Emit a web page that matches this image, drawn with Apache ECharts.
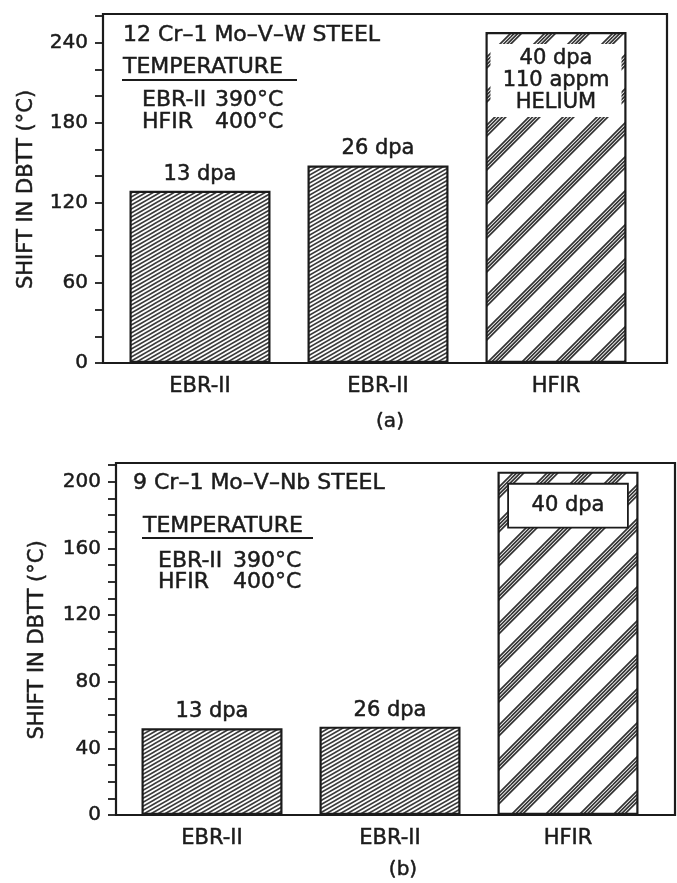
<!DOCTYPE html>
<html>
<head>
<meta charset="utf-8">
<script src="https://cdn.jsdelivr.net/npm/echarts@6/dist/echarts.min.js"></script>
<style>
  html, body { margin: 0; padding: 0; background: #fff; }
  #chart { width: 677px; height: 883px; }
</style>
</head>
<body>
<div id="chart"></div>
<script>
// reactor / dose categories (same for both panels)
const categories = ['EBR-II', 'EBR-II', 'HFIR'];

// (a) 12Cr-1Mo-V-W steel, shift in DBTT (°C)
const shiftA = [129, 148, 248];
const barLabelsA = ['13 dpa', '26 dpa', '40 dpa\n110 appm\nHELIUM'];
const tickLabelsA = [0, 60, 120, 180, 240];

// (b) 9Cr-1Mo-V-Nb steel
const shiftB = [52, 53, 206];
const barLabelsB = ['13 dpa', '26 dpa', '40 dpa'];
const tickLabelsB = [0, 40, 80, 120, 160, 200];

const FONT = '"DejaVu Sans", sans-serif';
const INK = '#1b1b1b';
const BOLDEN = 0.5; // scanned print looks a bit heavier than plain DejaVu

// fine diagonal hatch used for the EBR-II bars
function fineHatch() {
  const w = 14, h = 8, n = 2;
  const c = document.createElement('canvas');
  c.width = w; c.height = h;
  const ctx = c.getContext('2d');
  ctx.fillStyle = '#fff';
  ctx.fillRect(0, 0, w, h);
  ctx.strokeStyle = '#3a3a3a';
  ctx.lineWidth = 1.6;
  for (let k = -n; k <= 2 * n; k++) {
    const off = k * h / n;
    ctx.beginPath();
    ctx.moveTo(-1, h + off + h / w);
    ctx.lineTo(w + 1, off - h / w);
    ctx.stroke();
  }
  return c;
}

// wide 45° bands of thin lines used for the HFIR bars
function bandHatch() {
  const s = 34;
  const c = document.createElement('canvas');
  c.width = s; c.height = s;
  const ctx = c.getContext('2d');
  ctx.fillStyle = '#fff';
  ctx.fillRect(0, 0, s, s);
  ctx.strokeStyle = '#333';
  ctx.lineWidth = 1.7;
  const offs = [0, 3.6, 7.2, 10.8];
  for (let k = -1; k <= 2; k++) {
    offs.forEach(o => {
      const b = o + k * s;
      ctx.beginPath();
      ctx.moveTo(-2, b + 2);
      ctx.lineTo(s + 2, b - s - 2);
      ctx.stroke();
    });
  }
  return c;
}

const ebrFill = { image: fineHatch(), repeat: 'repeat' };
const hfirFill = { image: bandHatch(), repeat: 'repeat' };

function txt(x, y, text, size, align) {
  return {
    type: 'text', x: x, y: y,
    style: {
      text: text, font: size + 'px ' + FONT, fill: INK,
      stroke: INK, lineWidth: BOLDEN,
      align: align || 'left', verticalAlign: 'middle'
    }
  };
}
function rule(x1, x2, y) {
  return { type: 'line', shape: { x1: x1, y1: y, x2: x2, y2: y }, style: { stroke: INK, lineWidth: 2 } };
}

const heavy = { textBorderColor: INK, textBorderWidth: BOLDEN };

function valueAxis(grid, max, interval, offset, labels, nameGap) {
  return {
    gridIndex: grid, type: 'value', min: 0, max: max, interval: interval, offset: offset,
    axisLine: { show: false },
    splitLine: { show: false },
    axisTick: { show: true, length: 8, lineStyle: { color: INK, width: 1.8 } },
    axisLabel: Object.assign({
      margin: 15, fontSize: 20, fontFamily: FONT, color: INK,
      formatter: v => (labels.indexOf(v) >= 0 ? String(v) : '')
    }, heavy),
    name: 'SHIFT IN DBTT (°C)', nameLocation: 'middle', nameRotate: 90, nameGap: nameGap,
    nameTextStyle: Object.assign({ fontSize: 21, fontFamily: FONT, color: INK }, heavy)
  };
}

function catAxis(grid) {
  return {
    gridIndex: grid, type: 'category', data: categories,
    axisLine: { show: false }, axisTick: { show: false },
    axisLabel: Object.assign({ margin: 13, fontSize: 21, fontFamily: FONT, color: INK }, heavy)
  };
}

function barData(values, boxLabel) {
  return values.map((v, i) => {
    const item = { value: v, itemStyle: { color: categories[i] === 'HFIR' ? hfirFill : ebrFill } };
    if (categories[i] === 'HFIR') item.label = boxLabel;
    return item;
  });
}

function barSeries(axisIndex, values, labels, boxLabel) {
  return {
    type: 'bar', xAxisIndex: axisIndex, yAxisIndex: axisIndex, barWidth: 141,
    itemStyle: { borderColor: INK, borderWidth: 2.2 },
    emphasis: { disabled: true },
    label: Object.assign({
      show: true, position: 'top', distance: 6, fontSize: 21, fontFamily: FONT, color: INK,
      formatter: p => labels[p.dataIndex]
    }, heavy),
    data: barData(values, boxLabel)
  };
}

const chart = echarts.init(document.getElementById('chart'));

const option = {
  animation: false,
  backgroundColor: '#fff',
  grid: [
    { left: 103, top: 14, width: 564, height: 349, show: true, borderColor: INK, borderWidth: 2.2, backgroundColor: 'transparent' },
    { left: 111, top: 16, width: 534, height: 347 },
    { left: 116, top: 463, width: 559, height: 352, show: true, borderColor: INK, borderWidth: 2.2, backgroundColor: 'transparent' },
    { left: 123, top: 465, width: 534, height: 350 }
  ],
  xAxis: [
    { gridIndex: 0, type: 'value', show: false },
    catAxis(1),
    { gridIndex: 2, type: 'value', show: false },
    catAxis(3)
  ],
  yAxis: [
    { gridIndex: 0, type: 'value', show: false },
    valueAxis(1, 260, 20, 8, tickLabelsA, 66),
    { gridIndex: 2, type: 'value', show: false },
    valueAxis(3, 210, 10, 7, tickLabelsB, 68)
  ],
  series: [
    barSeries(1, shiftA, barLabelsA, {
      position: 'insideTop', distance: 12, backgroundColor: '#fff',
      width: 131, lineHeight: 22, padding: [4, 0, 3, 0], align: 'center'
    }),
    barSeries(3, shiftB, barLabelsB, {
      position: 'insideTop', distance: 13, backgroundColor: '#fff',
      borderColor: INK, borderWidth: 1.8,
      width: 118, lineHeight: 22, padding: [10, 0, 10, 0], align: 'center'
    })
  ],
  graphic: [
    txt(123, 35, '12 Cr–1 Mo–V–W STEEL', 22),
    txt(123, 67, 'TEMPERATURE', 22),
    rule(122, 297, 80),
    txt(142, 100, 'EBR-II', 22), txt(215, 100, '390°C', 22),
    txt(142, 122, 'HFIR', 22), txt(215, 122, '400°C', 22),
    txt(390, 422, '(a)', 20, 'center'),

    txt(133, 483, '9 Cr–1 Mo–V–Nb STEEL', 22),
    txt(143, 526, 'TEMPERATURE', 22),
    rule(142, 313, 538),
    txt(158, 561, 'EBR-II', 22), txt(233, 561, '390°C', 22),
    txt(158, 582, 'HFIR', 22), txt(233, 582, '400°C', 22),
    txt(403, 870, '(b)', 20, 'center')
  ]
};

chart.setOption(option);
</script>
</body>
</html>
